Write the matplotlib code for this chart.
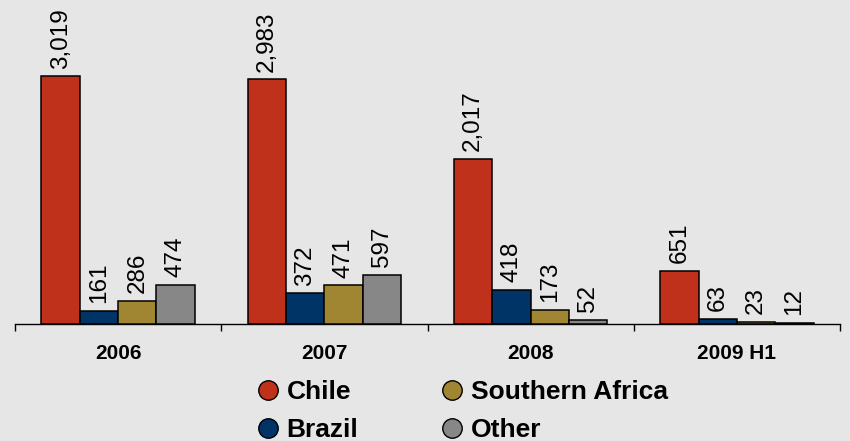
import numpy as np
from matplotlib import pyplot as plt
from matplotlib.lines import Line2D

# Production by region (values as labelled on the bars)
periods = ['2006', '2007', '2008', '2009 H1']
regions = ['Chile', 'Brazil', 'Southern Africa', 'Other']
chile = [3019, 2983, 2017, 651]
brazil = [161, 372, 418, 63]
southern_africa = [286, 471, 173, 23]
other = [474, 597, 52, 12]

series = [chile, brazil, southern_africa, other]
colors = ['#C0311C', '#003366', '#A08533', '#878787']
bg = '#E6E6E6'

plt.rcParams['font.family'] = ['Liberation Sans', 'DejaVu Sans']

fig = plt.figure(figsize=(8.5, 4.41), dpi=100, facecolor=bg)
ax = fig.add_axes([15 / 850, 1 - 324 / 441, 825 / 850, 324 / 441])
ax.set_facecolor(bg)

x = np.arange(len(periods))
w = 0.186
for i, (vals, c) in enumerate(zip(series, colors)):
    pos = x + (i - 1.5) * w
    ax.bar(pos, vals, width=w, color=c, edgecolor='black', linewidth=1.1,
           zorder=3)
    for p, v in zip(pos, vals):
        ax.annotate(f'{v:,}', (p, v), xytext=(0, 5.5), textcoords='offset points',
                    rotation=90, ha='center', va='bottom', fontsize=17.5)

ax.set_xlim(-0.5, len(periods) - 0.5)
ax.set_ylim(0, 3950)
for s in ['top', 'right', 'left']:
    ax.spines[s].set_visible(False)
ax.spines['bottom'].set_linewidth(1.0)
ax.set_yticks([])
ax.set_xticks(np.arange(len(periods) + 1) - 0.5)
ax.set_xticklabels([])
ax.tick_params(axis='x', direction='out', length=5, width=1.0)
for xi, lab in zip(x, periods):
    ax.text(xi, -0.09, lab, transform=ax.get_xaxis_transform(), ha='center',
            va='center', fontsize=15, fontweight='bold')

handles = [Line2D([], [], ls='none', marker='o', ms=14, mfc=c, mec='black',
                  mew=1.0) for c in colors]
leg = fig.legend(handles, regions, ncol=2, loc='center',
                 bbox_to_anchor=(460 / 850, 1 - 411 / 441), frameon=False,
                 prop={'size': 19, 'weight': 'bold'}, handletextpad=0.1,
                 columnspacing=2.97, labelspacing=0.52, handlelength=1.2)

fig.savefig('out.png', dpi=100, facecolor=bg)
